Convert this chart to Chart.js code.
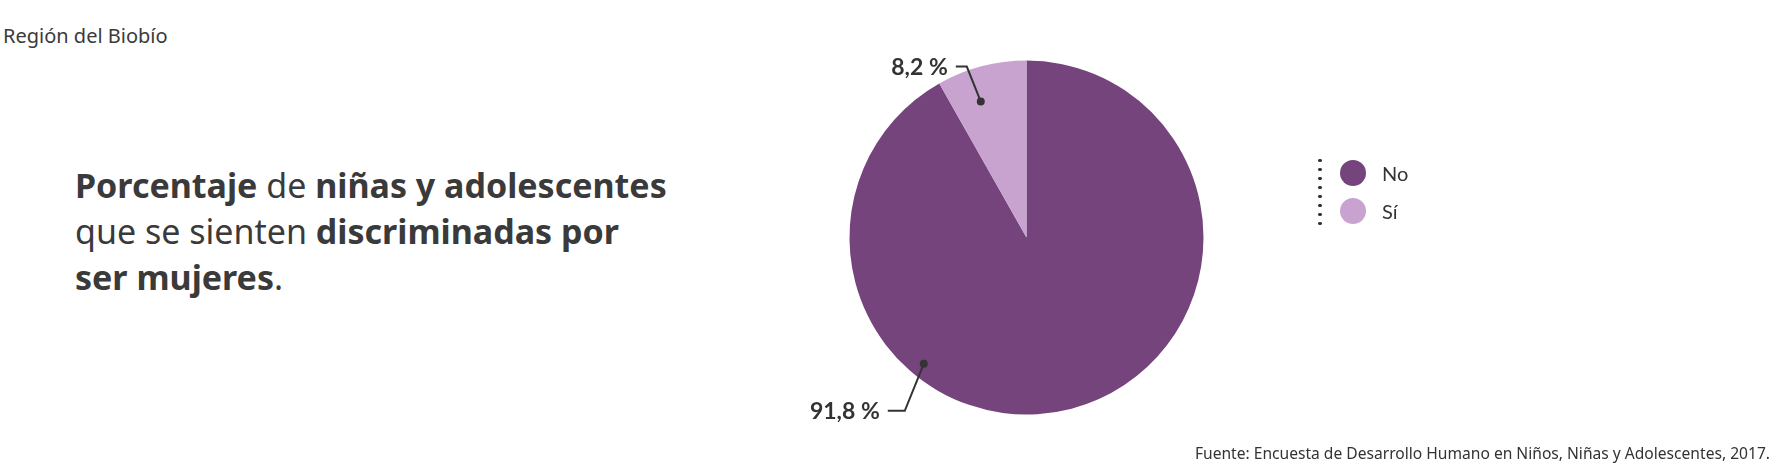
<!DOCTYPE html>
<html>
<head>
<meta charset="utf-8">
<script src="https://cdn.jsdelivr.net/npm/chart.js@4"></script>
<style>
	body { margin: 0; background: #fff; width: 1791px; height: 476px; overflow: hidden; position: relative; font-family: 'Noto Sans', Lato, sans-serif; color: #333; }
	#pie { position: absolute; left: 0; top: 0; }
	.region { position: absolute; left: 3px; top: 22px; font-size: 20px; color: #3a3a3a; }
	.title { position: absolute; left: 75px; top: 162px; font-size: 34px; line-height: 46px; color: #3a3a3a; }
	.title b { font-weight: 700; }
	.legend { position: absolute; left: 1318px; top: 156px; font-family: Lato, sans-serif; }
	.legend .dots { position: absolute; left: 0; top: 0; width: 4px; height: 72px;
		background-image: radial-gradient(circle, #333 1.6px, transparent 2px); background-size: 4px 9px; }
	.legend .item { position: absolute; left: 22px; height: 26px; line-height: 26px; font-size: 20px; white-space: nowrap; }
	.legend .item span { display: inline-block; width: 26px; height: 26px; border-radius: 50%; vertical-align: top; margin-right: 16px; }
	.source { position: absolute; right: 21px; top: 442px; font-size: 15.6px; color: #333; }
</style>
</head>
<body>
<div class="region">Región del Biobío</div>
<div class="title"><b>Porcentaje</b> de <b>niñas y adolescentes</b><br>que se sienten <b>discriminadas por</b><br><b>ser mujeres</b>.</div>
<canvas id="pie" width="1791" height="476"></canvas>
<div class="legend" id="legend"><div class="dots"></div></div>
<div class="source">Fuente: Encuesta de Desarrollo Humano en Niños, Niñas y Adolescentes, 2017.</div>
<script>
const categories = ['No', 'Sí']
const values = [91.8, 8.2]
const valueLabels = ['91,8 %', '8,2 %']
const colors = ['#76447c', '#c8a3cf']

// where each callout dot sits: fraction along the arc, fraction of radius, elbow offset
const callouts = [
	{ t: 0.663, r: 0.92, dx: -19, dy: 47, arm: 17 },
	{ t: 0.37, r: 0.81, dx: -14, dy: -35, arm: 11 },
]

// legend
categories.forEach(function (name, i) {
	const item = document.createElement('div')
	item.className = 'item'
	item.style.top = (4 + i * 38) + 'px'
	item.innerHTML = '<span style="background:' + colors[i] + '"></span>' + name
	document.getElementById('legend').appendChild(item)
})

const calloutPlugin = {
	id: 'callouts',
	afterDatasetsDraw: function (chart) {
		const ctx = chart.ctx
		const meta = chart.getDatasetMeta(0)
		meta.data.forEach(function (arc, i) {
			const c = callouts[i]
			const p = arc.getProps(['x', 'y', 'startAngle', 'endAngle', 'outerRadius'], true)
			const a = p.startAngle + c.t * (p.endAngle - p.startAngle)
			const px = p.x + Math.cos(a) * p.outerRadius * c.r
			const py = p.y + Math.sin(a) * p.outerRadius * c.r
			const ex = px + c.dx
			const ey = py + c.dy
			ctx.save()
			ctx.strokeStyle = '#333'
			ctx.fillStyle = '#333'
			ctx.lineWidth = 2
			ctx.beginPath()
			ctx.moveTo(px, py)
			ctx.lineTo(ex, ey)
			ctx.lineTo(ex - c.arm, ey)
			ctx.stroke()
			ctx.beginPath()
			ctx.arc(px, py, 4, 0, Math.PI * 2)
			ctx.fill()
			ctx.font = 'bold 23px Lato, "Noto Sans", sans-serif'
			ctx.textAlign = 'right'
			ctx.textBaseline = 'middle'
			ctx.fillText(valueLabels[i], ex - c.arm - 8, ey + 1)
			ctx.restore()
		})
	},
}

new Chart(document.getElementById('pie'), {
	type: 'pie',
	data: {
		labels: categories,
		datasets: [{
			data: values,
			backgroundColor: colors,
			borderWidth: 0,
		}],
	},
	options: {
		responsive: false,
		animation: false,
		layout: { padding: { left: 849.5, right: 587.5, top: 60.5, bottom: 61.5 } },
		plugins: { legend: { display: false }, tooltip: { enabled: false } },
	},
	plugins: [calloutPlugin],
})
</script>
</body>
</html>
